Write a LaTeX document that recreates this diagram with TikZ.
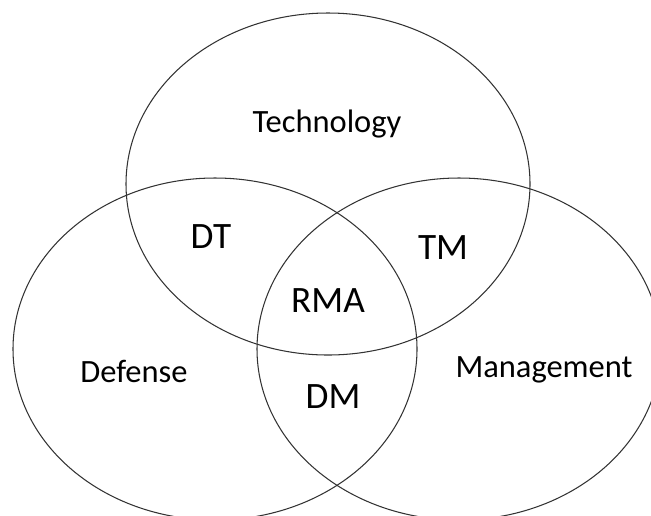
\documentclass[tikz,border=0pt]{standalone}
\usepackage{fontspec}
\setmainfont{Carlito}
\begin{document}
\begin{tikzpicture}[x=0.02cm, y=-0.02cm,
  set/.style={draw=black!80, line width=0.6pt},
  setname/.style={font=\fontsize{18.5}{22}\selectfont},
  part/.style={font=\fontsize{21.2}{25}\selectfont}]
\useasboundingbox (0, 0) rectangle (651, 515);
\clip (0, 0) rectangle (651, 515);
\draw [set] (328, 184) ellipse (202 and 171);
\draw [set] (215, 349) ellipse (202 and 171);
\draw [set] (459, 349) ellipse (202 and 171);
\node [setname] (tech) at (327, 124) {Technology};
\node [setname] (def) at (134, 371) {Defense};
\node [setname] (man) at (544, 370) {Management};
\node [part] (dt) at (211, 237) {DT};
\node [part] (tm) at (443, 248) {TM};
\node [part] (rma) at (328, 301) {RMA};
\node [part] (dm) at (333, 397) {DM};
\end{tikzpicture}
\end{document}
